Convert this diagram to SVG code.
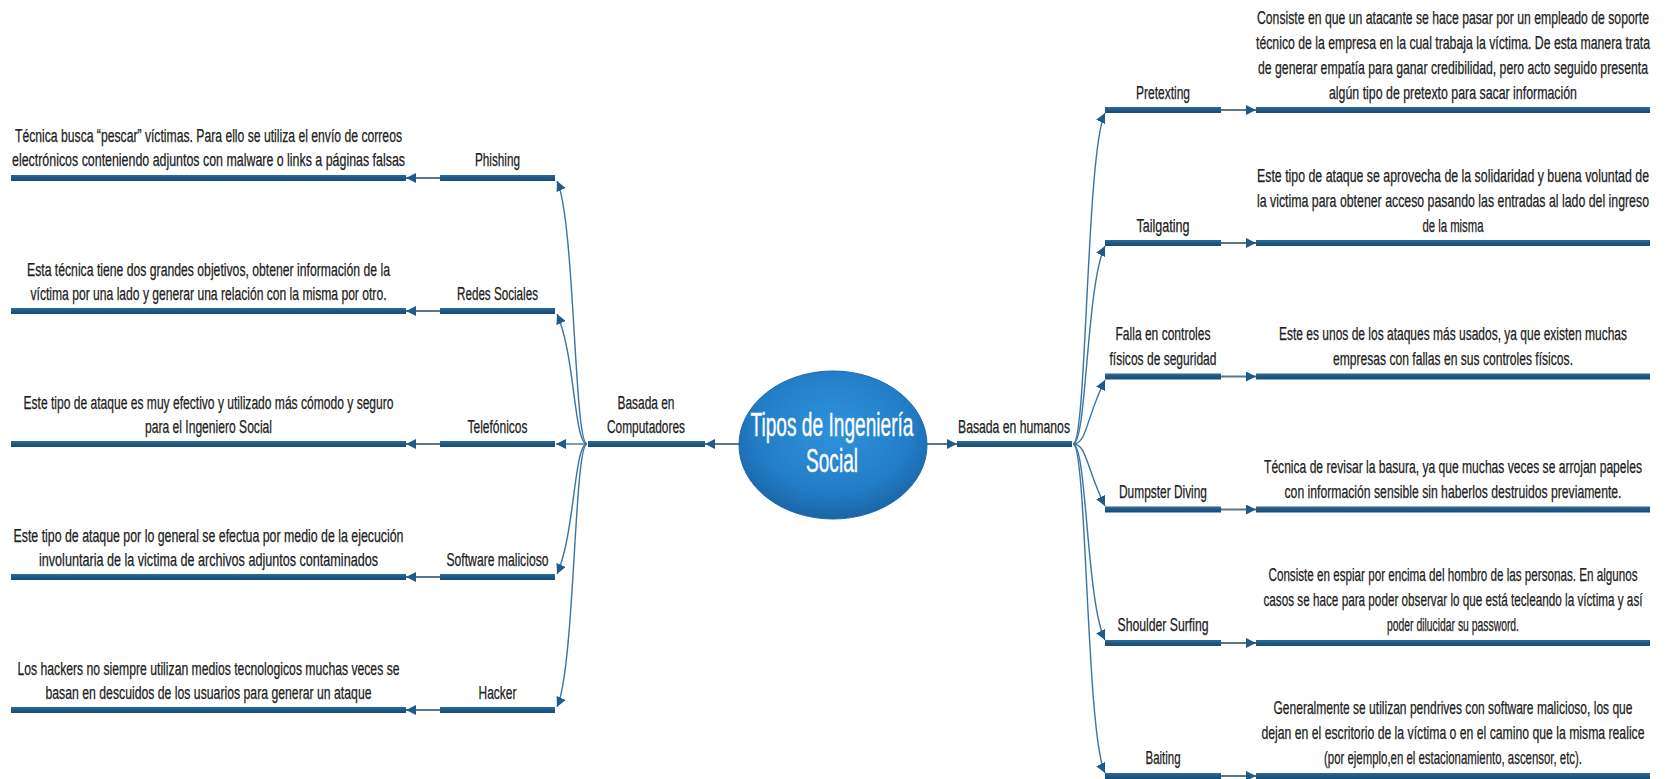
<svg xmlns="http://www.w3.org/2000/svg" width="1665" height="779" viewBox="0 0 1665 779">
  <style>
    .t { font-family: "Liberation Sans Narrow", "Liberation Sans", Arial, sans-serif; font-size: 18px; fill: #202020; stroke: #202020; stroke-width: 0.25; }
    .hub { font-family: "Liberation Sans Narrow", "Liberation Sans", Arial, sans-serif; font-size: 34px; fill: #ffffff; stroke: #ffffff; stroke-width: 0.4; }
    .bar { fill: url(#barFill); }
    .link { fill: none; stroke: #56788f; stroke-width: 2; }
    .curve { fill: none; stroke: #3a74a3; stroke-width: 1.4; }
  </style>
  <defs>
    <linearGradient id="barFill" x1="0" y1="0" x2="0" y2="1">
      <stop offset="0" stop-color="#2c6a99"/>
      <stop offset="0.5" stop-color="#1d5986"/>
      <stop offset="1" stop-color="#184b74"/>
    </linearGradient>
    <radialGradient id="hubFill" cx="0.5" cy="0.4" r="0.6">
      <stop offset="0" stop-color="#2f92dc"/>
      <stop offset="0.7" stop-color="#237dc6"/>
      <stop offset="1" stop-color="#1a64a5"/>
    </radialGradient>
    <marker id="arrow" viewBox="0 0 10 10" refX="10" refY="5" markerWidth="10" markerHeight="10" markerUnits="userSpaceOnUse" orient="auto">
      <path d="M0,0 L10,5 L0,10 z" fill="#1f5a88"/>
    </marker>
  </defs>

  <rect width="1665" height="779" fill="#ffffff"/>

  <!-- connectors -->
  <g id="connectors">
    <!-- hub to both main branches -->
    <path class="link" d="M740,444 L705,444" marker-end="url(#arrow)"/>
    <path class="link" d="M925,444 L957,444" marker-end="url(#arrow)"/>

    <!-- left fan: Basada en Computadores -> children -->
    <path class="curve" d="M587,444 C574,444 575,220 557,181" marker-end="url(#arrow)"/>
    <path class="curve" d="M587,444 C574,444 575,354 557,314" marker-end="url(#arrow)"/>
    <path class="curve" d="M587,444 L556,444" marker-end="url(#arrow)"/>
    <path class="curve" d="M587,444 C574,444 575,534 557,574" marker-end="url(#arrow)"/>
    <path class="curve" d="M587,444 C574,444 575,668 557,707" marker-end="url(#arrow)"/>

    <!-- right fan: Basada en humanos -> children -->
    <path class="curve" d="M1073,444 C1087,444 1086,152 1105,113" marker-end="url(#arrow)"/>
    <path class="curve" d="M1073,444 C1087,444 1086,285 1105,246" marker-end="url(#arrow)"/>
    <path class="curve" d="M1073,444 C1087,444 1086,418 1105,380" marker-end="url(#arrow)"/>
    <path class="curve" d="M1073,444 C1087,444 1086,468 1105,506" marker-end="url(#arrow)"/>
    <path class="curve" d="M1073,444 C1087,444 1086,601 1105,640" marker-end="url(#arrow)"/>
    <path class="curve" d="M1073,444 C1087,444 1086,734 1105,773" marker-end="url(#arrow)"/>

    <!-- label to description, left side -->
    <path class="link" d="M440,178 L406,178" marker-end="url(#arrow)"/>
    <path class="link" d="M440,311 L406,311" marker-end="url(#arrow)"/>
    <path class="link" d="M440,444 L406,444" marker-end="url(#arrow)"/>
    <path class="link" d="M440,577 L406,577" marker-end="url(#arrow)"/>
    <path class="link" d="M440,710 L406,710" marker-end="url(#arrow)"/>

    <!-- label to description, right side -->
    <path class="link" d="M1221,110 L1256,110" marker-end="url(#arrow)"/>
    <path class="link" d="M1221,243 L1256,243" marker-end="url(#arrow)"/>
    <path class="link" d="M1221,376.5 L1256,376.5" marker-end="url(#arrow)"/>
    <path class="link" d="M1221,509.5 L1256,509.5" marker-end="url(#arrow)"/>
    <path class="link" d="M1221,643 L1256,643" marker-end="url(#arrow)"/>
    <path class="link" d="M1221,776 L1256,776" marker-end="url(#arrow)"/>
  </g>

  <!-- central topic -->
  <g id="hub">
    <ellipse cx="833" cy="445" rx="94" ry="74" fill="url(#hubFill)" stroke="#1b68aa" stroke-width="1"/>
    <text class="hub" x="750.5" y="436" textLength="163" lengthAdjust="spacingAndGlyphs">Tipos de Ingeniería</text>
    <text class="hub" x="806" y="472" textLength="52" lengthAdjust="spacingAndGlyphs">Social</text>
  </g>

  <!-- main branches -->
  <g id="branch-computadores">
    <rect class="bar" x="588" y="441" width="117" height="6"/>
    <text class="t" x="617.5" y="409" textLength="57" lengthAdjust="spacingAndGlyphs">Basada en</text>
    <text class="t" x="607" y="433" textLength="78" lengthAdjust="spacingAndGlyphs">Computadores</text>
  </g>
  <g id="branch-humanos">
    <rect class="bar" x="957" y="441" width="115" height="6"/>
    <text class="t" x="958" y="433" textLength="112" lengthAdjust="spacingAndGlyphs">Basada en humanos</text>
  </g>

  <!-- left side topics -->
  <g id="phishing">
    <rect class="bar" x="440" y="175" width="115" height="6"/>
    <text class="t" x="475" y="166" textLength="45" lengthAdjust="spacingAndGlyphs">Phishing</text>
  </g>
  <g id="phishing-desc">
    <rect class="bar" x="11" y="175" width="395" height="6"/>
    <text class="t" x="15" y="142" textLength="387" lengthAdjust="spacingAndGlyphs">Técnica busca “pescar” víctimas. Para ello se utiliza el envío de correos</text>
    <text class="t" x="12" y="166" textLength="393" lengthAdjust="spacingAndGlyphs">electrónicos conteniendo adjuntos con malware o links a páginas falsas</text>
  </g>

  <g id="redes">
    <rect class="bar" x="440" y="308" width="115" height="6"/>
    <text class="t" x="457" y="300" textLength="81" lengthAdjust="spacingAndGlyphs">Redes Sociales</text>
  </g>
  <g id="redes-desc">
    <rect class="bar" x="11" y="308" width="395" height="6"/>
    <text class="t" x="27" y="276" textLength="363" lengthAdjust="spacingAndGlyphs">Esta técnica tiene dos grandes objetivos, obtener información de la</text>
    <text class="t" x="30.5" y="300" textLength="356" lengthAdjust="spacingAndGlyphs">víctima por una lado y generar una relación con la misma por otro.</text>
  </g>

  <g id="telefonicos">
    <rect class="bar" x="440" y="441" width="115" height="6"/>
    <text class="t" x="467.5" y="433" textLength="60" lengthAdjust="spacingAndGlyphs">Telefónicos</text>
  </g>
  <g id="telefonicos-desc">
    <rect class="bar" x="11" y="441" width="395" height="6"/>
    <text class="t" x="23.5" y="409" textLength="370" lengthAdjust="spacingAndGlyphs">Este tipo de ataque es muy efectivo y utilizado más cómodo y seguro</text>
    <text class="t" x="145" y="433" textLength="127" lengthAdjust="spacingAndGlyphs">para el Ingeniero Social</text>
  </g>

  <g id="software">
    <rect class="bar" x="440" y="574" width="115" height="6"/>
    <text class="t" x="446.5" y="566" textLength="102" lengthAdjust="spacingAndGlyphs">Software malicioso</text>
  </g>
  <g id="software-desc">
    <rect class="bar" x="11" y="574" width="395" height="6"/>
    <text class="t" x="13.5" y="542" textLength="390" lengthAdjust="spacingAndGlyphs">Este tipo de ataque por lo general se efectua por medio de la ejecución</text>
    <text class="t" x="39" y="566" textLength="339" lengthAdjust="spacingAndGlyphs">involuntaria de la victima de archivos adjuntos contaminados</text>
  </g>

  <g id="hacker">
    <rect class="bar" x="440" y="707" width="115" height="6"/>
    <text class="t" x="478.5" y="699" textLength="38" lengthAdjust="spacingAndGlyphs">Hacker</text>
  </g>
  <g id="hacker-desc">
    <rect class="bar" x="11" y="707" width="395" height="6"/>
    <text class="t" x="17.5" y="675" textLength="382" lengthAdjust="spacingAndGlyphs">Los hackers no siempre utilizan medios tecnologicos muchas veces se</text>
    <text class="t" x="45.5" y="699" textLength="326" lengthAdjust="spacingAndGlyphs">basan en descuidos de los usuarios para generar un ataque</text>
  </g>

  <!-- right side topics -->
  <g id="pretexting">
    <rect class="bar" x="1105" y="107" width="116" height="6"/>
    <text class="t" x="1136" y="99" textLength="54" lengthAdjust="spacingAndGlyphs">Pretexting</text>
  </g>
  <g id="pretexting-desc">
    <rect class="bar" x="1256" y="107" width="394" height="6"/>
    <text class="t" x="1257" y="24" textLength="392" lengthAdjust="spacingAndGlyphs">Consiste en que un atacante se hace pasar por un empleado de soporte</text>
    <text class="t" x="1256" y="49" textLength="394" lengthAdjust="spacingAndGlyphs">técnico de la empresa en la cual trabaja la víctima. De esta manera trata</text>
    <text class="t" x="1258" y="74" textLength="390" lengthAdjust="spacingAndGlyphs">de generar empatía para ganar credibilidad, pero acto seguido presenta</text>
    <text class="t" x="1329" y="99" textLength="248" lengthAdjust="spacingAndGlyphs">algún tipo de pretexto para sacar información</text>
  </g>

  <g id="tailgating">
    <rect class="bar" x="1105" y="240" width="116" height="6"/>
    <text class="t" x="1136.5" y="232" textLength="53" lengthAdjust="spacingAndGlyphs">Tailgating</text>
  </g>
  <g id="tailgating-desc">
    <rect class="bar" x="1256" y="240" width="394" height="6"/>
    <text class="t" x="1257" y="182" textLength="392" lengthAdjust="spacingAndGlyphs">Este tipo de ataque se aprovecha de la solidaridad y buena voluntad de</text>
    <text class="t" x="1257" y="207" textLength="392" lengthAdjust="spacingAndGlyphs">la victima para obtener acceso pasando las entradas al lado del ingreso</text>
    <text class="t" x="1422.5" y="232" textLength="61" lengthAdjust="spacingAndGlyphs">de la misma</text>
  </g>

  <g id="falla">
    <rect class="bar" x="1105" y="373.5" width="116" height="6"/>
    <text class="t" x="1115.5" y="340" textLength="95" lengthAdjust="spacingAndGlyphs">Falla en controles</text>
    <text class="t" x="1109.5" y="365" textLength="107" lengthAdjust="spacingAndGlyphs">físicos de seguridad</text>
  </g>
  <g id="falla-desc">
    <rect class="bar" x="1256" y="373.5" width="394" height="6"/>
    <text class="t" x="1279" y="340" textLength="348" lengthAdjust="spacingAndGlyphs">Este es unos de los ataques más usados, ya que existen muchas</text>
    <text class="t" x="1333" y="365" textLength="240" lengthAdjust="spacingAndGlyphs">empresas con fallas en sus controles físicos.</text>
  </g>

  <g id="dumpster">
    <rect class="bar" x="1105" y="506.5" width="116" height="6"/>
    <text class="t" x="1119" y="498" textLength="88" lengthAdjust="spacingAndGlyphs">Dumpster Diving</text>
  </g>
  <g id="dumpster-desc">
    <rect class="bar" x="1256" y="506.5" width="394" height="6"/>
    <text class="t" x="1264" y="473" textLength="378" lengthAdjust="spacingAndGlyphs">Técnica de revisar la basura, ya que muchas veces se arrojan papeles</text>
    <text class="t" x="1284.5" y="498" textLength="337" lengthAdjust="spacingAndGlyphs">con información sensible sin haberlos destruidos previamente.</text>
  </g>

  <g id="shoulder">
    <rect class="bar" x="1105" y="640" width="116" height="6"/>
    <text class="t" x="1117.5" y="631" textLength="91" lengthAdjust="spacingAndGlyphs">Shoulder Surfing</text>
  </g>
  <g id="shoulder-desc">
    <rect class="bar" x="1256" y="640" width="394" height="6"/>
    <text class="t" x="1268.5" y="581" textLength="369" lengthAdjust="spacingAndGlyphs">Consiste en espiar por encima del hombro de las personas. En algunos</text>
    <text class="t" x="1263.5" y="606" textLength="379" lengthAdjust="spacingAndGlyphs">casos se hace para poder observar lo que está tecleando la víctima y así</text>
    <text class="t" x="1387" y="631" textLength="132" lengthAdjust="spacingAndGlyphs">poder dilucidar su password.</text>
  </g>

  <g id="baiting">
    <rect class="bar" x="1105" y="773" width="116" height="6"/>
    <text class="t" x="1145.5" y="764" textLength="35" lengthAdjust="spacingAndGlyphs">Baiting</text>
  </g>
  <g id="baiting-desc">
    <rect class="bar" x="1256" y="773" width="394" height="6"/>
    <text class="t" x="1273.5" y="714" textLength="359" lengthAdjust="spacingAndGlyphs">Generalmente se utilizan pendrives con software malicioso, los que</text>
    <text class="t" x="1261.5" y="739" textLength="383" lengthAdjust="spacingAndGlyphs">dejan en el escritorio de la víctima o en el camino que la misma realice</text>
    <text class="t" x="1324" y="764" textLength="258" lengthAdjust="spacingAndGlyphs">(por ejemplo,en el estacionamiento, ascensor, etc).</text>
  </g>
</svg>
